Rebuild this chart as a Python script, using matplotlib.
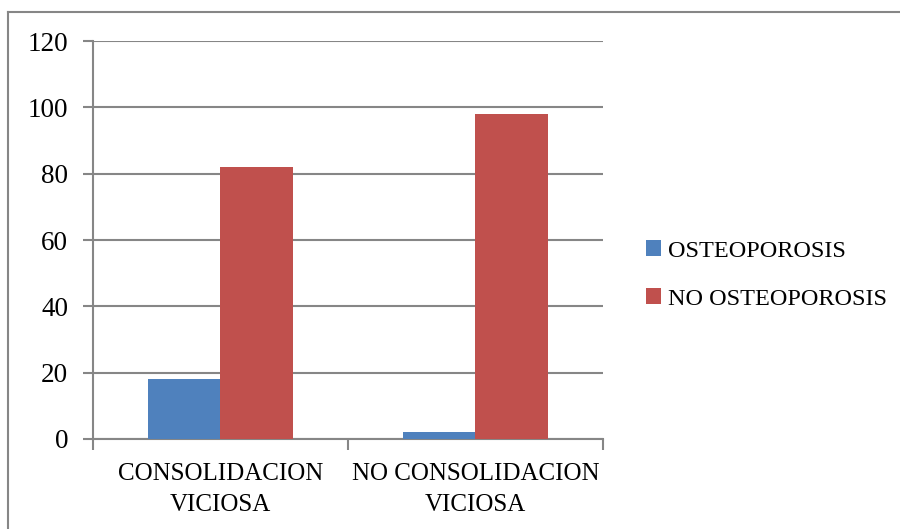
import matplotlib
matplotlib.use("Agg")
import matplotlib.pyplot as plt
import numpy as np
from matplotlib.lines import Line2D

categories = ["CONSOLIDACION\nVICIOSA", "NO CONSOLIDACION\nVICIOSA"]
series_names = ["OSTEOPOROSIS", "NO OSTEOPOROSIS"]
osteoporosis = [18, 2]
no_osteoporosis = [82, 98]
y_ticks = [0, 20, 40, 60, 80, 100, 120]

colors = ["#4F81BD", "#C0504D"]
grid_c = "#868686"
font = "Liberation Serif"
fs = 18
fs_leg = 17.5
fs_tick = 19.5

W, H = 900, 529
fig = plt.figure(figsize=(W / 100, H / 100), dpi=100)
fig.patch.set_facecolor("white")

# outer chart border (top and left visible)
fig.add_artist(Line2D([8 / W, 1.0], [1 - 12 / H, 1 - 12 / H], transform=fig.transFigure,
                      color=grid_c, lw=1.5))
fig.add_artist(Line2D([8 / W, 8 / W], [0, 1 - 12 / H], transform=fig.transFigure,
                      color=grid_c, lw=1.5))

ax = fig.add_axes([93 / W, (H - 439) / H, 510 / W, 398 / H])
x = np.arange(len(categories))
bw = 1 / 3.5
b1 = ax.bar(x - bw / 2, osteoporosis, width=bw, color=colors[0], label=series_names[0], zorder=3)
b2 = ax.bar(x + bw / 2, no_osteoporosis, width=bw, color=colors[1], label=series_names[1], zorder=3)

ax.set_xlim(-0.5, len(categories) - 0.5)
ax.set_ylim(0, 120)
ax.set_yticks(y_ticks)
ax.set_yticklabels([str(v) for v in y_ticks], fontname=font, fontsize=fs_tick)
ax.yaxis.grid(True, color=grid_c, lw=1.5, zorder=0)
ax.set_axisbelow(True)

ax.set_xticks(x)
ax.set_xticklabels(categories, fontname=font, fontsize=fs)
for lbl in ax.get_xticklabels():
    lbl.set_linespacing(1.52)
ax.set_xticks(np.arange(-0.5, len(categories), 1.0), minor=True)
ax.tick_params(axis="x", which="major", length=0, pad=17.5)
ax.tick_params(axis="x", which="minor", length=8, width=1.5, color=grid_c, direction="out")
ax.tick_params(axis="y", length=7, width=1.5, color=grid_c, direction="out", pad=11)

for s in ["top", "right"]:
    ax.spines[s].set_visible(False)
for s in ["left", "bottom"]:
    ax.spines[s].set_color(grid_c)
    ax.spines[s].set_linewidth(1.5)

leg = fig.legend(handles=[b1, b2], labels=series_names, loc="center left",
                 bbox_to_anchor=(646 / W, 1 - 275 / H), frameon=False,
                 prop={"family": font, "size": fs_leg}, handlelength=0.62, handleheight=0.62,
                 handletextpad=0.3, labelspacing=1.08, borderpad=0, borderaxespad=0)

fig.savefig("out.png", dpi=100)
